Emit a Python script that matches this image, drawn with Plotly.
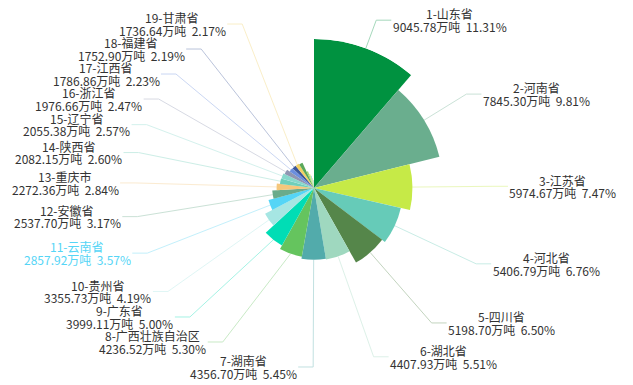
import math
import plotly.graph_objects as go

# ---------------- data ----------------
provinces = ["山东省", "河南省", "江苏省", "河北省", "四川省", "湖北省", "湖南省",
             "广西壮族自治区", "广东省", "贵州省", "云南省", "安徽省", "重庆市", "陕西省",
             "辽宁省", "浙江省", "江西省", "福建省", "甘肃省",
             "新疆维吾尔自治区", "内蒙古自治区", "山西省", "黑龙江省", "海南省",
             "宁夏回族自治区", "吉林省", "天津市", "上海市", "北京市", "青海省", "西藏自治区"]
output = [9045.78, 7845.30, 5974.67, 5406.79, 5198.70, 4407.93, 4356.70,
          4236.52, 3999.11, 3355.73, 2857.92, 2537.70, 2272.36, 2082.15,
          2055.38, 1976.66, 1786.86, 1752.90, 1736.64,
          1690.00, 1085.00, 905.00, 765.00, 620.00,
          585.00, 490.00, 275.00, 260.00, 200.00, 150.00, 86.40]
unit = "万吨"
labeled_count = 19
highlight = "云南省"

colors = ["#009240", "#6aae8e", "#c6ea47", "#66cbb8", "#55864a", "#9fd8bf", "#52abab",
          "#65c45e", "#00ddb5", "#a6e6e3", "#55d5f6", "#6aab8b", "#f5c77c", "#6fcfba",
          "#86d8cc", "#8f96b2", "#6b8ede", "#3d5799", "#f2d165",
          "#5aa85a", "#9bd46e", "#d8ec7a", "#7fd3c2", "#f0dc8a", "#a9dcc4",
          "#7cbf7c", "#e3ee9a", "#8fdccd", "#c2e6a8", "#f3e6a6", "#b4e2d2"]

# ---------------- layout constants ----------------
W, H = 633, 385
CX, CY = 314, 188        # pie centre (px)
RP = 149                 # pie outer radius (px)
RL = 179                 # radius of label-line elbows (px)
LEN2 = 15                # horizontal leader segment
GAP = 2                  # gap between line end and text
LH = 25                  # label block height
LINE_GAP = 6.3           # half distance between the two text lines
FS = 12
TEXT_COLOR = "#333333"
FONT = "Noto Sans CJK SC, Microsoft YaHei, sans-serif"


def text_width(s, size=FS):
    w = 0.0
    for ch in s:
        if ch.isdigit():
            w += 0.553
        elif ch == ".":
            w += 0.27
        elif ch == "%":
            w += 0.86
        elif ch in " \u00a0":
            w += 0.224
        elif ch == "-":
            w += 0.34
        elif ord(ch) > 0x2e80:
            w += 1.0
        else:
            w += 0.55
    return w * size


total = sum(output)
vmax = max(output)
spans = [v / total * 360 for v in output]
mids = []
acc = 0.0
for s in spans:
    mids.append(acc + s / 2)
    acc += s

fig = go.Figure()
fig.add_trace(go.Barpolar(
    r=output, theta=mids, width=spans,
    marker=dict(color=colors, line=dict(width=0)),
    hoverinfo="skip", showlegend=False,
))


def px2paper(x, y):
    return x / W, 1 - y / H


# ---------------- label layout ----------------
items = []
for i in range(labeled_count):
    a = math.radians(mids[i])
    s, c = math.sin(a), math.cos(a)
    rs = RP * output[i] / vmax
    side = 1 if s > 0 else -1
    items.append(dict(i=i, side=side, p1=(CX + rs * s, CY - rs * c),
                      y=CY - RL * c))

for side in (1, -1):
    group = sorted([it for it in items if it["side"] == side], key=lambda d: -d["y"])
    below = None
    for it in group:
        if below is not None and it["y"] > below - LH:
            it["y"] = below - LH
        below = it["y"]

shapes = []
annotations = []
for it in items:
    i, side = it["i"], it["side"]
    y = it["y"]
    dy = y - CY
    ex = CX + side * math.sqrt(max(RL * RL - dy * dy, 0))
    x3 = ex + side * LEN2
    p1 = px2paper(*it["p1"])
    p2 = px2paper(ex, y)
    p3 = px2paper(x3, y)
    shapes.append(dict(
        type="path", xref="paper", yref="paper",
        path=f"M {p1[0]},{p1[1]} L {p2[0]},{p2[1]} L {p3[0]},{p3[1]}",
        line=dict(color=colors[i], width=1), opacity=0.35, layer="below"))
    tcol = colors[i] if provinces[i] == highlight else TEXT_COLOR
    pct = output[i] / total * 100
    line1 = f"{i + 1}-{provinces[i]}"
    line2 = f"{output[i]:.2f}{unit}\u00a0\u00a0{pct:.2f}%"
    wb = max(text_width(line1), text_width(line2))
    xc = x3 + side * (GAP + wb / 2)
    for txt, yy in ((line1, y - LINE_GAP), (line2, y + LINE_GAP)):
        tx, ty = px2paper(xc, yy)
        annotations.append(dict(
            x=tx, y=ty, xref="paper", yref="paper", text=txt, showarrow=False,
            xanchor="center", yanchor="middle", align="center",
            font=dict(family=FONT, size=FS, color=tcol), borderpad=0))

dx0, dy0 = px2paper(CX - RP, CY + RP)
dx1, dy1 = px2paper(CX + RP, CY - RP)

fig.update_layout(
    width=W, height=H, autosize=False,
    margin=dict(l=0, r=0, t=0, b=0),
    paper_bgcolor="white", plot_bgcolor="white",
    polar=dict(
        domain=dict(x=[dx0, dx1], y=[dy0, dy1]),
        bgcolor="rgba(0,0,0,0)",
        bargap=0,
        radialaxis=dict(range=[0, vmax], visible=False),
        angularaxis=dict(direction="clockwise", rotation=90, visible=False),
    ),
    shapes=shapes,
    annotations=annotations,
    font=dict(family=FONT),
)

fig.write_html("out.html", config={"displayModeBar": False},
               post_script="document.body.style.margin='0';document.body.style.overflow='hidden';")
